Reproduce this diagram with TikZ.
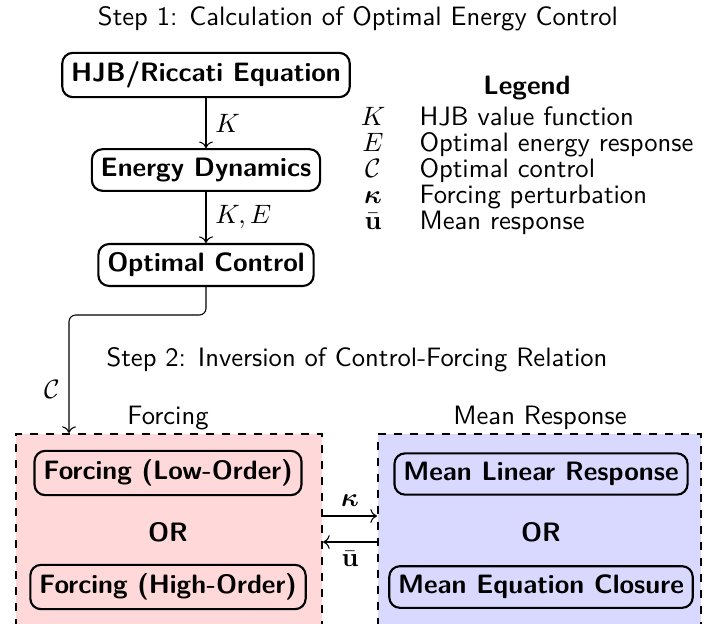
\documentclass[tikz,border=0pt]{standalone}
\usepackage{amsmath,amssymb,bm}
\usetikzlibrary{arrows.meta}
\begin{document}
\begin{tikzpicture}[x=0.376pt,y=-0.376pt,
  font=\sffamily,
  box/.style={draw,thick,rounded corners,font=\sffamily\bfseries,inner sep=3.33pt},
  conn/.style={->},
  grp/.style={draw,thick,dashed,inner sep=0pt},
  lsym/.style={anchor=base,inner sep=0pt},
  ltxt/.style={anchor=base west,inner sep=0pt},
  ]
\clip (0,0) rectangle (704,623);
% Step 1
\node[anchor=base] (t1) at (358,25) {Step 1: Calculation of Optimal Energy Control};
\node[box] (hjb) at (206,75) {HJB/Riccati Equation};
\node[box] (ed) at (206,170) {Energy Dynamics};
\node[box] (oc) at (206,265) {Optimal Control};
\draw[conn] (hjb) -- node[right]{$K$} (ed);
\draw[conn] (ed) -- node[right]{$K,E$} (oc);
% Legend
\node[anchor=base,font=\sffamily\bfseries] (lg) at (527,94) {Legend};
\node[lsym] (s1) at (373,125) {$K$};
\node[ltxt] (d1) at (419,125) {HJB value function};
\node[lsym] (s2) at (373,151) {$E$};
\node[ltxt] (d2) at (419,151) {Optimal energy response};
\node[lsym] (s3) at (373,177) {$\mathcal{C}$};
\node[ltxt] (d3) at (419,177) {Optimal control};
\node[lsym] (s4) at (373,203) {$\boldsymbol{\kappa}$};
\node[ltxt] (d4) at (419,203) {Forcing perturbation};
\node[lsym] (s5) at (373,229) {$\bar{\mathbf{u}}$};
\node[ltxt] (d5) at (419,229) {Mean response};
% Step 2
\node[anchor=base] (t2) at (357,366) {Step 2: Inversion of Control-Forcing Relation};
\node[anchor=base] (lf) at (168,424) {Forcing};
\node[anchor=base] (lm) at (540,424) {Mean Response};
\node[grp,fill=red!15,minimum width=115.06pt,minimum height=78.2pt] (fl) at (169,538) {};
\node[grp,fill=blue!15,minimum width=121.4pt,minimum height=78.2pt] (fr) at (539.5,538) {};
\node[box] (fll) at (168,473) {Forcing (Low-Order)};
\node[font=\sffamily\bfseries] (or1) at (168,532) {OR};
\node[box] (flh) at (168,587) {Forcing (High-Order)};
\node[box] (mlr) at (541,474) {Mean Linear Response};
\node[font=\sffamily\bfseries] (or2) at (541,532) {OR};
\node[box] (mec) at (541,587) {Mean Equation Closure};
% connectors
\coordinate (cb) at (69,315);
\coordinate (ka) at (0,516);
\coordinate (ua) at (0,542);
\draw[conn,rounded corners=2.5pt] (oc.south) |- (cb) -- node[left,pos=0.63]{$\mathcal{C}$} (cb |- fl.north);
\draw[conn] (fl.east |- ka) -- node[above]{$\boldsymbol{\kappa}$} (fr.west |- ka);
\draw[conn] (fr.west |- ua) -- node[below]{$\bar{\mathbf{u}}$} (fl.east |- ua);
\end{tikzpicture}
\end{document}
